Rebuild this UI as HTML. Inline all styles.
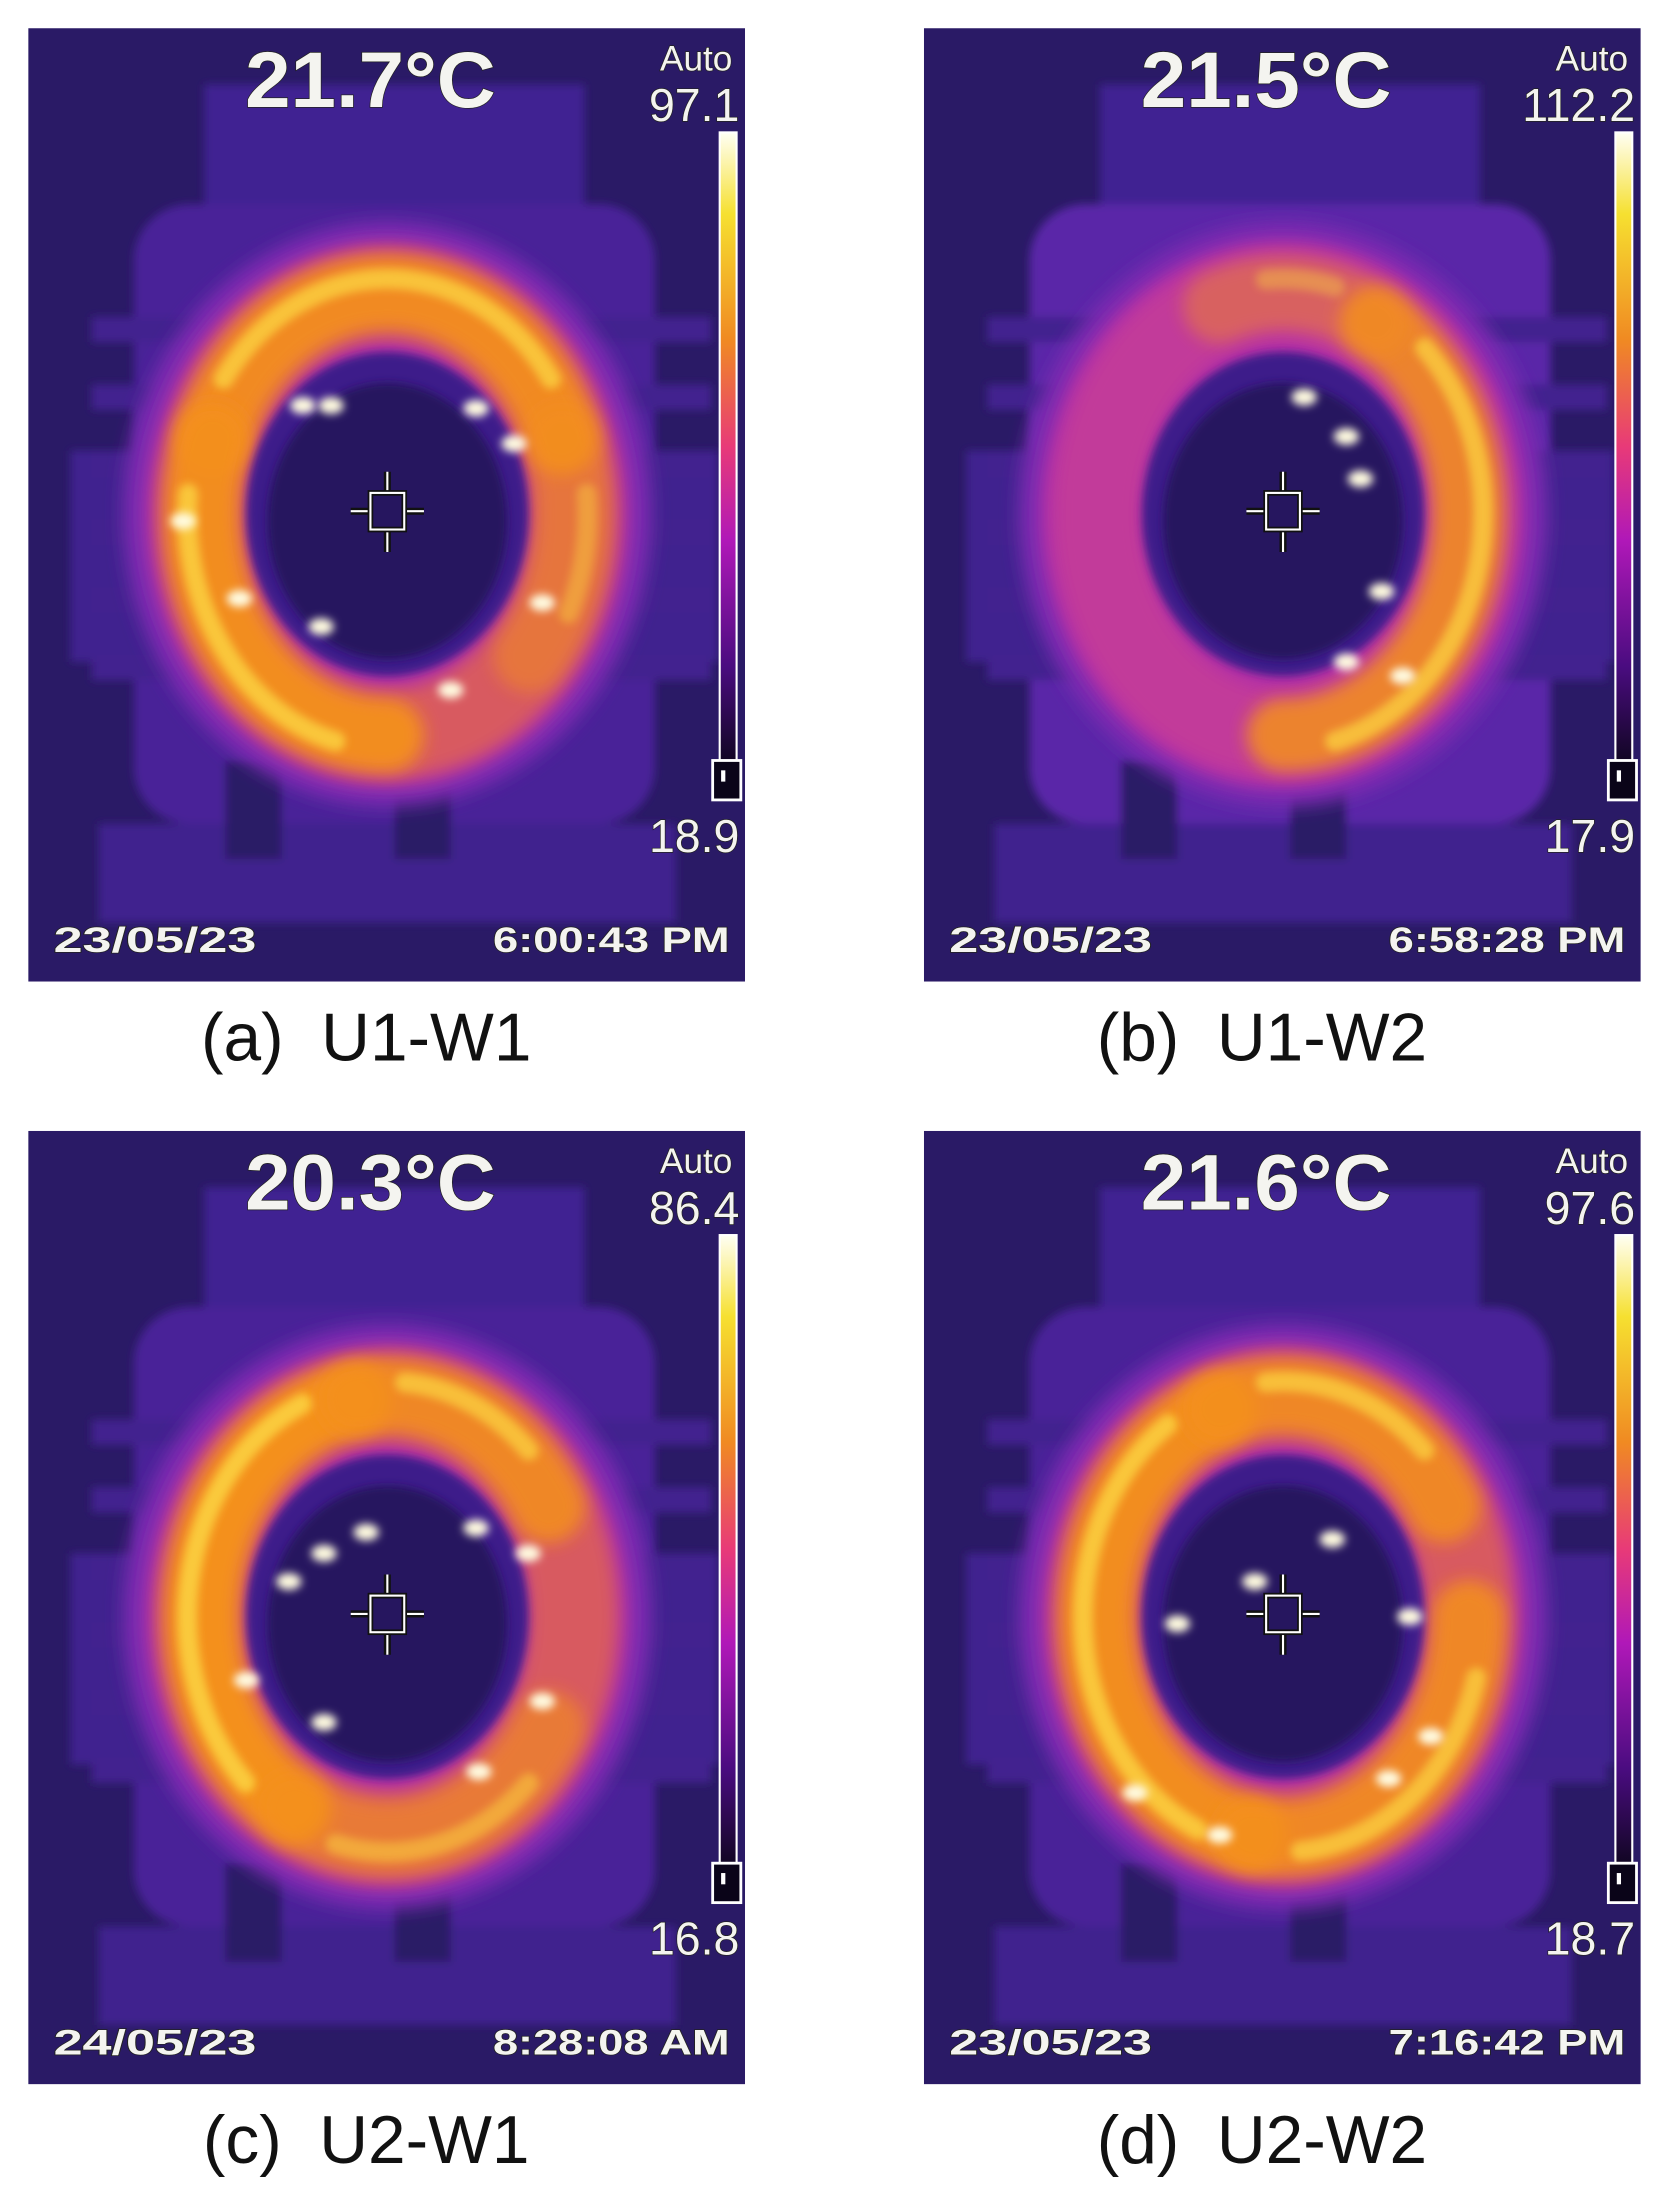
<!DOCTYPE html>
<html><head><meta charset="utf-8"><style>
html,body{margin:0;padding:0;background:#fff;}
svg{display:block;}
text{font-family:"Liberation Sans",sans-serif;}
</style></head><body>
<svg id="fig" width="1676" height="2204" viewBox="0 0 1190 1565" xmlns="http://www.w3.org/2000/svg">
<defs>
<linearGradient id="cbar" x1="0" y1="0" x2="0" y2="1">
<stop offset="0" stop-color="#fffff4"/><stop offset="0.13" stop-color="#f6e030"/><stop offset="0.33" stop-color="#f08a22"/><stop offset="0.5" stop-color="#e83a78"/><stop offset="0.65" stop-color="#b018b8"/><stop offset="0.85" stop-color="#4a0c80"/><stop offset="1" stop-color="#120624"/>
</linearGradient>
<filter id="b6" filterUnits="userSpaceOnUse" x="-50" y="-50" width="620" height="780"><feGaussianBlur stdDeviation="6"/></filter>
<filter id="b3" filterUnits="userSpaceOnUse" x="-50" y="-50" width="620" height="780"><feGaussianBlur stdDeviation="3"/></filter>
<filter id="b10" filterUnits="userSpaceOnUse" x="-50" y="-50" width="620" height="780"><feGaussianBlur stdDeviation="10"/></filter>
<clipPath id="pclip"><rect x="0" y="0" width="509" height="677"/></clipPath>
</defs>
<g id="panels"></g>
</svg>
<script>
const panelIds=['a','b','c','d'];
const captions=['(a)  U1-W1','(b)  U1-W2','(c)  U2-W1','(d)  U2-W2'];
const spotTemps=['21.7°C','21.5°C','20.3°C','21.6°C'];
const maxTemps=['97.1','112.2','86.4','97.6'];
const minTemps=['18.9','17.9','16.8','18.7'];
const dates=['23/05/23','23/05/23','24/05/23','23/05/23'];
const times=['6:00:43 PM','6:58:28 PM','8:28:08 AM','7:16:42 PM'];
// hot arc segments per panel: [startDeg,endDeg,intensity 0-1]
const hotArcs=[
 [[200,340,0.9],[90,200,0.95],[340,400,0.5]],
 [[300,450,0.85],[250,300,0.45]],
 [[120,260,1.0],[260,330,0.85],[30,120,0.6]],
 [[100,250,0.95],[250,330,0.85],[0,100,0.85]]
];
const hotSpots=[
 [[215,268],[195,268],[318,270],[345,295],[150,405],[208,425],[365,408],[300,470],[110,350]],
 [[300,290],[270,262],[310,320],[325,400],[300,450],[340,460]],
 [[240,285],[210,300],[185,320],[318,282],[355,300],[155,390],[210,420],[365,405],[320,455]],
 [[290,290],[235,320],[180,350],[345,345],[150,470],[210,500],[330,460],[360,430]]
];
const px=[20,656,20,656], py=[20,20,803,803];
const NS='http://www.w3.org/2000/svg';
const root=document.getElementById('panels');
function mk(tag,attrs,parent){const e=document.createElementNS(NS,tag);for(const k in attrs)e.setAttribute(k,attrs[k]);parent.appendChild(e);return e;}
function arcPath(cx,cy,rx,ry,a0,a1){
 const r=d=>d*Math.PI/180;
 const x0=cx+rx*Math.cos(r(a0)),y0=cy+ry*Math.sin(r(a0));
 const x1=cx+rx*Math.cos(r(a1)),y1=cy+ry*Math.sin(r(a1));
 const large=(a1-a0)>180?1:0;
 return `M${x0} ${y0} A${rx} ${ry} 0 ${large} 1 ${x1} ${y1}`;
}
panelIds.forEach((id,i)=>{
 const g=mk('g',{transform:`translate(${px[i]},${py[i]})`},root);
 
 
 const c=mk('g',{'clip-path':'url(#pclip)'},g);
 mk('rect',{x:0,y:0,width:509,height:677,fill:'#2a1a66'},c);
 const body=mk('g',{filter:'url(#b3)'},c);
 mk('rect',{x:125,y:40,width:270,height:130,fill:'#3f2392'},body);
 mk('rect',{x:75,y:125,width:370,height:440,rx:40,fill:i==1?'#5a28a8':'#4a2498'},body);
 mk('rect',{x:30,y:300,width:460,height:150,fill:'#40228f'},body);
 for(let k=0;k<6;k++){mk('rect',{x:45,y:205+k*48,width:440,height:18,fill:'#43238f'},body);}
 mk('rect',{x:50,y:565,width:410,height:70,fill:'#40228e'},body);
 mk('rect',{x:140,y:520,width:40,height:70,fill:'#2b1a66'},body);
 mk('rect',{x:260,y:530,width:40,height:60,fill:'#2b1a66'},body);
 const cx=255,cy=345;
 mk('ellipse',{cx:cx,cy:cy,rx:188,ry:208,fill:'#7a2ab0',filter:'url(#b6)'},c);
 mk('ellipse',{cx:cx,cy:cy,rx:172,ry:194,fill:'#b02ea8',filter:'url(#b6)'},c);
 mk('ellipse',{cx:cx,cy:cy,rx:132,ry:156,fill:'none',stroke:i==1?'#c23a9a':'#d85a60','stroke-width':64,filter:'url(#b6)'},c);
 hotArcs[i].forEach(a=>{
  const p=mk('path',{d:arcPath(cx,cy,132,157,a[0],a[1]),fill:'none',stroke:'#f4901e','stroke-width':52,'stroke-linecap':'round',opacity:a[2],filter:'url(#b6)'},c);
  
  
  mk('path',{d:arcPath(cx,cy,142,167,a[0]+15,a[1]-15),fill:'none',stroke:'#fbd040','stroke-width':14,'stroke-linecap':'round',opacity:a[2]*0.9,filter:'url(#b3)'},c);
 });
 mk('ellipse',{cx:cx,cy:cy,rx:100,ry:115,fill:'#3c1f8a',filter:'url(#b3)'},c);
 mk('ellipse',{cx:cx,cy:cy+5,rx:85,ry:98,fill:'#26155e',filter:'url(#b3)'},c);
 hotSpots[i].forEach(s=>{
  const e=mk('ellipse',{cx:s[0],cy:s[1],rx:9,ry:6,fill:'#fffbe0',filter:'url(#b3)'},c);
  
  
 });
 const ch=mk('g',{fill:'none',stroke:'#fff','stroke-width':1.5},c);
 
 
 mk('path',{d:'M255 315 V330 M255 356 V372 M229 343 H243 M267 343 H281',stroke:'#111','stroke-width':5},ch);
 mk('path',{d:'M255 315 V330 M255 356 V372 M229 343 H243 M267 343 H281'},ch);
 mk('rect',{x:243,y:330,width:24,height:26,stroke:'#111','stroke-width':4},ch);
 mk('rect',{x:243,y:330,width:24,height:26},ch);
 const cb=mk('rect',{x:491,y:74,width:12,height:446,fill:'url(#cbar)',stroke:'#fff','stroke-width':1.5},g);
 
 
 mk('rect',{x:486,y:520,width:20,height:28,fill:'#0a0418',stroke:'#fff','stroke-width':2},g);
 mk('rect',{x:492,y:527,width:3,height:8,fill:'#fff'},g);
 function txt(x,y,s,size,anchor,weight,name,len){
  const t=mk('text',{x:x,y:y,'font-size':size,'text-anchor':anchor,'font-weight':weight,fill:'#f4f4f0',stroke:'#222','stroke-width':1,'paint-order':'stroke'},g);
  if(len){t.setAttribute('textLength',len);t.setAttribute('lengthAdjust','spacingAndGlyphs');}
  t.textContent=s;
  
  
  return t;
 }
 txt(243,56,spotTemps[i],56,'middle','bold','spot-temperature',178);
 txt(500,30,'Auto',25,'end','normal','auto-label');
 txt(505,66,maxTemps[i],33,'end','normal','scale-max');
 txt(505,585,minTemps[i],33,'end','normal','scale-min');
 txt(18,656,dates[i],25,'start','bold','capture-date',144);
 txt(498,656,times[i],25,'end','bold','capture-time',168);
 const cap=mk('text',{x:240,y:(i<2?753:1536)-py[i],'font-size':48,'text-anchor':'middle',fill:'#111','xml:space':'preserve'},g);
 cap.setAttribute('style','white-space:pre');
 
 
 cap.textContent=captions[i];
});
</script>
</body></html>
